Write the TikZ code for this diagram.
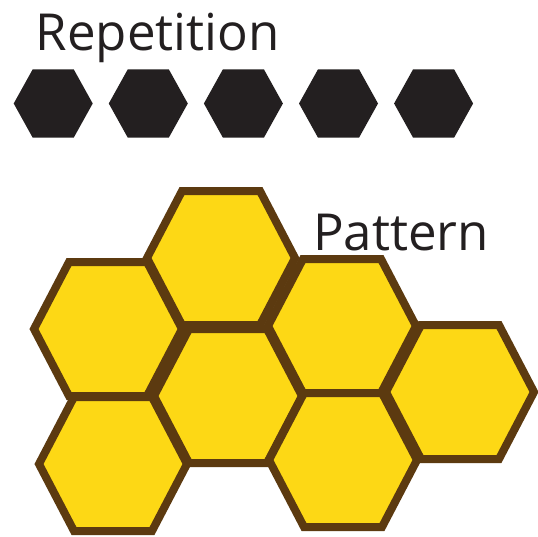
\documentclass[tikz,border=0pt]{standalone}
\usepackage{fontspec}
\setmainfont{Open Sans}
\definecolor{inkblack}{HTML}{231F20}
\definecolor{honeyfill}{HTML}{FDD815}
\definecolor{honeyline}{HTML}{5C3A10}
\begin{document}
\begin{tikzpicture}[x=1pt,y=-1pt,
  label/.style={inner sep=0pt,anchor=base west,text=inkblack,font=\fontsize{51}{60}\selectfont},
  solidhex/.style={fill=inkblack,draw=none},
  honeyhex/.style={fill=honeyfill,draw=honeyline,line width=8pt,line join=miter}]
\useasboundingbox[fill=white] (0,0) rectangle (538,536);
% title texts
\node[label] (rep) at (35.5,50.5) {Repetition};
\node[label] (pat) at (313,250) {Pattern};
% row of black hexagons
\foreach \cx in {53.2,148.3,243.4,338.5,433.6}{
  \fill[solidhex] ({\cx-39.5},103.5) -- ({\cx-20.5},69.3) -- ({\cx+20.5},69.3)
     -- ({\cx+39.5},103.5) -- ({\cx+20.5},137.7) -- ({\cx-20.5},137.7) -- cycle;
}
% honeycomb
\foreach \cx/\cy in {221/258,108/329,342/326,228/396,460/392,113/464,343/460}{
  \draw[honeyhex] ({\cx-74},\cy) -- ({\cx-39},{\cy-67}) -- ({\cx+39},{\cy-67})
     -- ({\cx+74},\cy) -- ({\cx+39},{\cy+67}) -- ({\cx-39},{\cy+67}) -- cycle;
}
\end{tikzpicture}
\end{document}
